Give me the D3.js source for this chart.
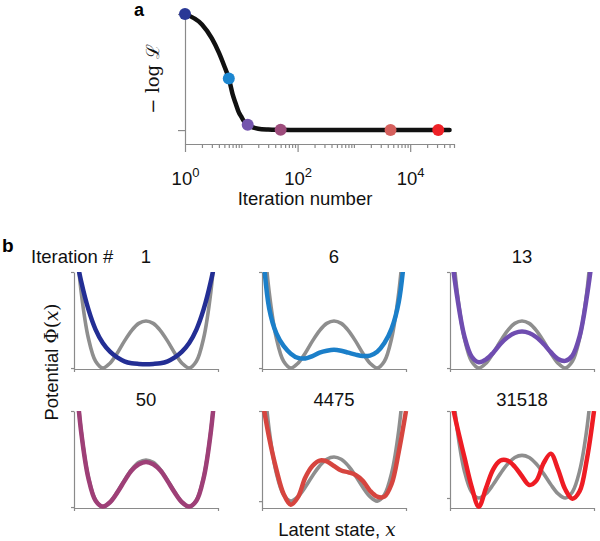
<!DOCTYPE html>
<html><head><meta charset="utf-8">
<script src="https://cdn.jsdelivr.net/npm/d3@7"></script>
<style>body{margin:0;background:#fff} svg{display:block}</style>
</head><body>
<svg id="c" width="600" height="541"></svg>
<script>
// ---- Panel a data: negative log-likelihood vs iteration ----
const iterations = [1,2,3,4,5,6,7,8,9,10,11,12,13,15,20,30,50,100,1000,4475,10000,31518,50000];
const negLogLik  = [1,0.91,0.79,0.667,0.55,0.445,0.31,0.225,0.155,0.115,0.08,0.06,0.045,0.028,0.012,0.005,0.002,0,0,0,0,0,0];
const markedIters = [1,6,13,50,4475,31518];
const markColors  = ["#2a3896","#1b86d0","#7556ae","#9d4c7c","#d5605d","#ee2127"];
const lineColors  = ["#232e94","#1b7fc9","#6f4db0","#9e3f77","#d6453f","#ee1c24"];
const majorTicks = [1,100,10000];
const majorTickExp = ["0","2","4"];

// ---- Panel b data: potentials on latent state grid ----
const xGrid = [-1,-0.9,-0.8,-0.7,-0.6,-0.5,-0.4,-0.3,-0.2,-0.1,0,0.1,0.2,0.3,0.4,0.5,0.6,0.7,0.8,0.9,1];
const truePotential = [1.61,0.79,0.31,0.07,0,0.05,0.155,0.28,0.39,0.465,0.49,0.465,0.39,0.28,0.155,0.05,0,0.07,0.31,0.79,1.61];
const fitIter1     = [1.28,0.9,0.61,0.4,0.26,0.17,0.11,0.07,0.05,0.043,0.04,0.043,0.05,0.07,0.11,0.17,0.26,0.4,0.61,0.9,1.28];
const fitIter6     = [1.35,0.62,0.36,0.23,0.15,0.105,0.1,0.125,0.16,0.18,0.19,0.18,0.16,0.14,0.125,0.13,0.17,0.26,0.41,0.69,1.35];
const fitIter13    = [1.3,0.74,0.33,0.12,0.06,0.09,0.16,0.25,0.32,0.365,0.38,0.365,0.32,0.25,0.165,0.095,0.075,0.13,0.33,0.74,1.3];
const fitIter50    = [1.58,0.78,0.3,0.065,0.005,0.05,0.15,0.27,0.38,0.445,0.47,0.445,0.38,0.27,0.15,0.05,0.005,0.065,0.3,0.78,1.58];
const fitIter4475  = [1.15,0.7,0.35,0.08,-0.04,0.044,0.26,0.39,0.45,0.44,0.39,0.34,0.32,0.29,0.225,0.116,0.05,0.05,0.19,0.55,1.0];
const fitIter31518 = [1.2,0.815,0.47,0.13,-0.1,0.115,0.33,0.43,0.43,0.36,0.25,0.15,0.2,0.4,0.51,0.33,0.1,-0.008,0.077,0.44,1.0];
const panelFits = [fitIter1, fitIter6, fitIter13, fitIter50, fitIter4475, fitIter31518];
const panelTitles = ["1","6","13","50","4475","31518"];

const SANS = '"Liberation Sans", Arial, Helvetica, sans-serif';
const SERIF = '"DejaVu Serif", "Liberation Serif", serif';
const AXC = "#8a8a8a";
const svg = d3.select("#c");

function styleAxis(g){
  g.selectAll("path.domain").attr("stroke", AXC).attr("stroke-width", 1.2);
  g.selectAll(".tick line").attr("stroke", AXC).attr("stroke-width", 1.2);
}

// ================= Panel a =================
const xA = d3.scaleLog().domain([1, 6e4]).range([185, 454]);
const yA = d3.scaleLinear().domain([-0.12, 1]).range([144, 14]);

const minorTicks = xA.ticks().filter(t => !majorTicks.includes(t));
const gxMinor = svg.append("g").attr("transform", "translate(0,144)")
  .call(d3.axisBottom(xA).tickValues(minorTicks).tickSize(4).tickSizeOuter(0).tickFormat(""));
styleAxis(gxMinor);
const gxMajor = svg.append("g").attr("transform", "translate(0,144)")
  .call(d3.axisBottom(xA).tickValues(majorTicks).tickSize(8).tickSizeOuter(0).tickFormat(""));
styleAxis(gxMajor);
gxMajor.selectAll(".tick").each(function(d, i){
  const t = d3.select(this).append("text")
    .attr("y", 41).attr("fill", "#111")
    .attr("text-anchor", "middle")
    .style("font-family", SANS).style("font-size", "18.5px");
  t.append("tspan").text("10");
  t.append("tspan").attr("dy", -8).style("font-size", "13px").text(majorTickExp[i]);
});

const gyA = svg.append("g").attr("transform", "translate(185,0)")
  .call(d3.axisLeft(yA).tickValues([0, 1]).tickSize(7).tickSizeOuter(0).tickFormat(""));
styleAxis(gyA);

const lossData = iterations.map((it, i) => ({it, v: negLogLik[i]}));
svg.append("path").datum(lossData)
  .attr("fill", "none").attr("stroke", "#111").attr("stroke-width", 4.5)
  .attr("stroke-linejoin", "round").attr("stroke-linecap", "round")
  .attr("d", d3.line().x(d => xA(d.it)).y(d => yA(d.v)).curve(d3.curveMonotoneX));

svg.selectAll("circle.mark").data(markedIters).join("circle")
  .attr("class", "mark")
  .attr("cx", d => xA(d))
  .attr("cy", d => yA(negLogLik[iterations.indexOf(d)]))
  .attr("r", 6)
  .attr("fill", (d, i) => markColors[i]);

svg.append("text").attr("x", 134).attr("y", 16)
  .style("font-family", SANS).style("font-weight", "bold").style("font-size", "18px").text("a");

svg.append("text").attr("transform", "translate(159,79) rotate(-90)")
  .attr("text-anchor", "middle")
  .style("font-family", SERIF).style("font-size", "18px").attr("fill", "#111")
  .text("− log ℒ");

svg.append("text").attr("x", 305).attr("y", 205).attr("text-anchor", "middle")
  .style("font-family", SANS).style("font-size", "18.5px").attr("fill", "#111")
  .text("Iteration number");

// ================= Panel b =================
const colX = [74, 262, 450];
const panelW = 144;
const rowTop = [272, 411];
const rowAxis = [369, 508];
const titleBase = [263, 406];
const yLow = [-0.01, -0.01, -0.01, -0.01, -0.076, -0.115];

const defs = svg.append("defs");

panelFits.forEach((fit, i) => {
  const c = i % 3, r = Math.floor(i / 3);
  const x = d3.scaleLinear().domain([-1, 1]).range([colX[c], colX[c] + panelW]);
  const y = d3.scaleLinear().domain([yLow[i], 1]).range([rowAxis[r], rowTop[r]]);
  const g = svg.append("g");

  const gx = g.append("g").attr("transform", `translate(0,${rowAxis[r]})`)
    .call(d3.axisBottom(x).tickValues([-1, 1]).tickSize(3).tickSizeOuter(0).tickFormat(""));
  styleAxis(gx);
  const gy = g.append("g").attr("transform", `translate(${colX[c]},0)`)
    .call(d3.axisLeft(y).tickValues([0, 1]).tickSize(3).tickSizeOuter(0).tickFormat(""));
  styleAxis(gy);

  const cid = "clip" + i;
  defs.append("clipPath").attr("id", cid).append("rect")
    .attr("x", colX[c] - 3).attr("y", rowTop[r])
    .attr("width", panelW + 8).attr("height", rowAxis[r] - rowTop[r] + 8);

  const line = d3.line().x((d, j) => x(xGrid[j])).y(d => y(d)).curve(d3.curveCatmullRom.alpha(0.5));
  const cg = g.append("g").attr("clip-path", `url(#${cid})`);
  cg.append("path").datum(truePotential)
    .attr("fill", "none").attr("stroke", "#8e8e8e").attr("stroke-width", 3.6)
    .attr("d", line);
  cg.append("path").datum(fit)
    .attr("fill", "none").attr("stroke", lineColors[i]).attr("stroke-width", 4.5)
    .attr("d", line);

  g.append("text").attr("x", colX[c] + panelW / 2).attr("y", titleBase[r])
    .attr("text-anchor", "middle").attr("fill", "#111")
    .style("font-family", SANS).style("font-size", "18.5px")
    .text(panelTitles[i]);
});

svg.append("text").attr("x", 2).attr("y", 252)
  .style("font-family", SANS).style("font-weight", "bold").style("font-size", "19px").text("b");

svg.append("text").attr("x", 31).attr("y", 263)
  .style("font-family", SANS).style("font-size", "18.5px").attr("fill", "#111")
  .text("Iteration #");

const yl = svg.append("text").attr("transform", "translate(58,362) rotate(-90)")
  .attr("text-anchor", "middle").attr("fill", "#111")
  .style("font-family", SANS).style("font-size", "18.5px");
yl.append("tspan").text("Potential ");
yl.append("tspan").style("font-family", SERIF).text("Φ(");
yl.append("tspan").style("font-family", SERIF).style("font-style", "italic").text("x");
yl.append("tspan").style("font-family", SERIF).text(")");

const xl = svg.append("text").attr("x", 337).attr("y", 536)
  .attr("text-anchor", "middle").attr("fill", "#111")
  .style("font-family", SANS).style("font-size", "18.5px");
xl.append("tspan").text("Latent state, ");
xl.append("tspan").style("font-family", SERIF).style("font-style", "italic").text("x");
</script>
</body></html>
